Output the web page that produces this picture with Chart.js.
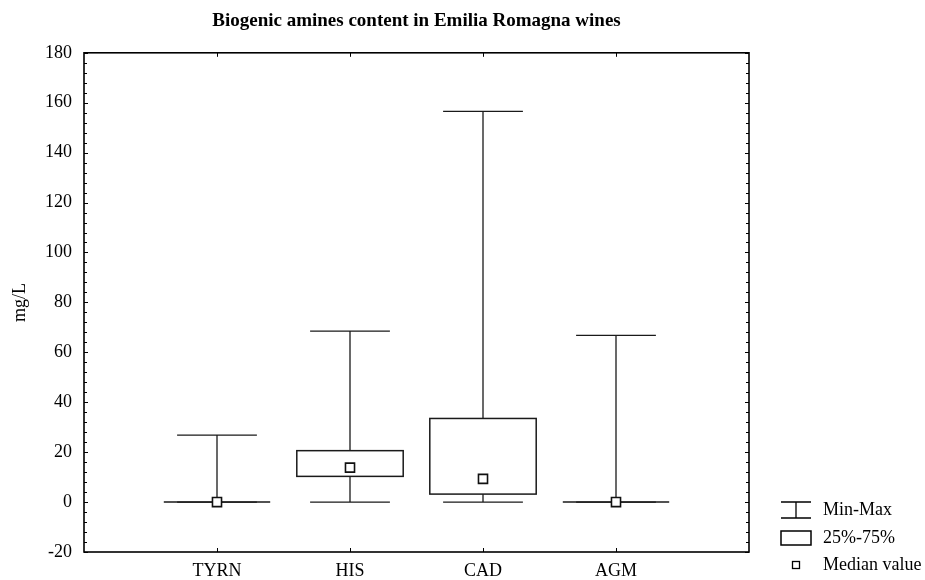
<!DOCTYPE html>
<html>
<head>
<meta charset="utf-8">
<script src="https://cdn.jsdelivr.net/npm/chart.js@4.4.0/dist/chart.umd.min.js"></script>
<style>
  body { margin: 0; background: #fff; }
  #wrap { width: 925px; height: 580px; }
</style>
</head>
<body>
<div id="wrap"><canvas id="box-chart"></canvas></div>
<script>
// values (mg/L)
var amines = ["TYRN", "HIS", "CAD", "AGM"];
var minVals = [0, 0, 0, 0];
var maxVals = [26.8, 68.5, 156.5, 66.8];
var q25 = [0, 10.3, 3.2, 0];
var q75 = [0, 20.6, 33.5, 0];
var medians = [0, 13.8, 9.3, 0];
var legendLabels = ["Min-Max", "25%-75%", "Median value"];

var serif = "'Liberation Serif', 'Times New Roman', serif";
var tickFont = { family: serif, size: 18 };

var boxPlugin = {
  id: 'boxes',
  beforeDatasetsDraw: function (chart) {
    var ctx = chart.ctx, xs = chart.scales.x, ys = chart.scales.y, a = chart.chartArea;
    var slot = xs.getPixelForValue(1) - xs.getPixelForValue(0);
    var boxW = slot * 0.8, capW = slot * 0.6;
    ctx.save();
    ctx.strokeStyle = '#1a1a1a';

    for (var i = 0; i < amines.length; i++) {
      var cx = xs.getPixelForValue(i + 1);
      var yMin = ys.getPixelForValue(minVals[i]);
      var yMax = ys.getPixelForValue(maxVals[i]);
      var y1 = ys.getPixelForValue(q25[i]);
      var y3 = ys.getPixelForValue(q75[i]);

      ctx.lineWidth = 1.3;
      ctx.beginPath();
      ctx.moveTo(cx, yMax); ctx.lineTo(cx, y3);
      ctx.moveTo(cx, y1); ctx.lineTo(cx, yMin);
      ctx.moveTo(cx - capW / 2, yMax); ctx.lineTo(cx + capW / 2, yMax);
      ctx.moveTo(cx - capW / 2, yMin); ctx.lineTo(cx + capW / 2, yMin);
      ctx.stroke();

      ctx.lineWidth = 1.5;
      ctx.fillStyle = '#fff';
      ctx.fillRect(cx - boxW / 2, y3, boxW, y1 - y3);
      ctx.strokeRect(cx - boxW / 2, y3, boxW, y1 - y3);
    }

    // frame
    ctx.strokeStyle = '#000';
    ctx.lineWidth = 1.6;
    ctx.strokeRect(a.left, a.top, a.right - a.left, a.bottom - a.top);

    // inner ticks
    ctx.lineWidth = 1;
    ctx.beginPath();
    for (var v = ys.min; v <= ys.max; v += 4) {
      var py = Math.round(ys.getPixelForValue(v)) + 0.5;
      var len = (v % 20 === 0) ? 4 : 3;
      ctx.moveTo(a.left, py); ctx.lineTo(a.left + len, py);
      ctx.moveTo(a.right, py); ctx.lineTo(a.right - len, py);
    }
    for (var k = 0; k < amines.length; k++) {
      var px = Math.round(xs.getPixelForValue(k + 1)) + 0.5;
      ctx.moveTo(px, a.top); ctx.lineTo(px, a.top + 4);
      ctx.moveTo(px, a.bottom); ctx.lineTo(px, a.bottom - 4);
    }
    ctx.stroke();
    ctx.restore();
  },
  afterDraw: function (chart) {
    var ctx = chart.ctx, a = chart.chartArea;
    var lx = a.right + 32, tx = a.right + 74;
    var rows = [a.bottom - 42, a.bottom - 14, a.bottom + 13];
    ctx.save();
    ctx.strokeStyle = '#000';
    ctx.lineWidth = 1.3;
    // min-max symbol
    ctx.beginPath();
    ctx.moveTo(lx, rows[0] - 8); ctx.lineTo(lx + 30, rows[0] - 8);
    ctx.moveTo(lx, rows[0] + 8); ctx.lineTo(lx + 30, rows[0] + 8);
    ctx.moveTo(lx + 15, rows[0] - 8); ctx.lineTo(lx + 15, rows[0] + 8);
    ctx.stroke();
    // box symbol
    ctx.lineWidth = 1.5;
    ctx.strokeRect(lx, rows[1] - 7, 30, 14);
    // median symbol
    ctx.lineWidth = 1.3;
    ctx.strokeRect(lx + 11.5, rows[2] - 3.5, 7, 7);

    ctx.fillStyle = '#000';
    ctx.font = '18px ' + serif;
    ctx.textAlign = 'left';
    ctx.textBaseline = 'middle';
    for (var i = 0; i < legendLabels.length; i++) {
      ctx.fillText(legendLabels[i], tx, rows[i]);
    }
    ctx.restore();
  }
};

new Chart(document.getElementById('box-chart'), {
  type: 'scatter',
  data: {
    datasets: [{
      label: 'Median value',
      data: amines.map(function (n, i) { return { x: i + 1, y: medians[i] }; }),
      pointStyle: 'rect',
      pointRadius: 6.4,
      pointHoverRadius: 6.4,
      pointBackgroundColor: '#fff',
      pointBorderColor: '#111',
      pointBorderWidth: 1.6
    }]
  },
  options: {
    responsive: true,
    maintainAspectRatio: false,
    animation: false,
    layout: { padding: { left: 0, right: 176, top: 0, bottom: 0 } },
    plugins: {
      legend: { display: false },
      tooltip: { enabled: false },
      title: {
        display: true,
        fullSize: false,
        text: 'Biogenic amines content in Emilia Romagna wines',
        color: '#000',
        font: { family: serif, size: 19, weight: 'bold' },
        padding: { top: 10, bottom: 20 }
      }
    },
    scales: {
      x: {
        type: 'linear',
        min: 0,
        max: 5,
        afterBuildTicks: function (s) {
          s.ticks = amines.map(function (n, i) { return { value: i + 1 }; });
        },
        afterFit: function (s) { s.height = 28; },
        grid: { display: false, drawTicks: false },
        border: { display: false },
        ticks: {
          autoSkip: false,
          maxRotation: 0,
          padding: 8,
          color: '#000',
          font: tickFont,
          callback: function (v) { return amines[v - 1]; }
        }
      },
      y: {
        min: -20,
        max: 180,
        afterFit: function (s) { s.width = 84; },
        grid: { display: false, drawTicks: false },
        border: { display: false },
        ticks: { stepSize: 20, padding: 12, color: '#000', font: tickFont },
        title: {
          display: true,
          text: 'mg/L',
          color: '#000',
          font: tickFont,
          padding: { top: 9, bottom: 0 }
        }
      }
    }
  },
  plugins: [boxPlugin]
});
</script>
</body>
</html>
